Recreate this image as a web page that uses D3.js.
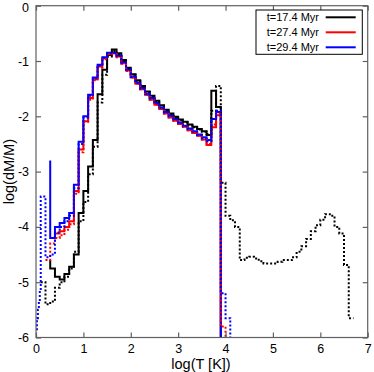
<!DOCTYPE html>
<html><head><meta charset="utf-8">
<script src="https://cdn.jsdelivr.net/npm/d3@7"></script>
<style>
html,body{margin:0;padding:0;background:#fff;}
svg{display:block;font-family:"Liberation Sans",Arial,sans-serif;}
</style></head>
<body><svg id="c" width="374" height="372"></svg>
<script>
// ---------- data (log T bins of 0.1 dex) ----------
const binWidth = 0.1;
const xTicks = [0,1,2,3,4,5,6,7];
const yTicks = [0,-1,-2,-3,-4,-5,-6];
const legendLabels = ["t=17.4 Myr","t=27.4 Myr","t=29.4 Myr"];

// solid histograms
const blackSolidStart = 0.3, blackSolidLead = [[0.3,-4.6]];
const blackSolidVals = [-4.75,-4.9,-4.95,-4.85,-4.72,-4.5,-3.75,-3.35,-2.91,-2.43,-1.6,-1.16,-0.89,-0.79,-0.86,-0.98,-1.12,-1.24,-1.35,-1.45,-1.55,-1.63,-1.72,-1.8,-1.88,-1.95,-2.01,-2.06,-2.1,-2.15,-2.19,-2.23,-2.27,-2.34,-1.54,-1.83];
const redSolidStart = 0.3, redSolidLead = [];
const redSolidVals = [-4.2,-4.12,-4.08,-4.0,-3.9,-3.35,-2.6,-2.09,-1.67,-1.33,-1.1,-0.95,-0.87,-0.86,-0.92,-1.04,-1.17,-1.3,-1.41,-1.51,-1.61,-1.7,-1.79,-1.87,-1.95,-2.02,-2.08,-2.14,-2.19,-2.25,-2.3,-2.35,-2.42,-2.52,-2.2,-1.98];
const blueSolidStart = 0.3, blueSolidLead = [[0.3,-2.8]];
const blueSolidVals = [-4.2,-4.0,-3.93,-3.84,-3.75,-3.24,-2.46,-2.0,-1.61,-1.3,-1.07,-0.93,-0.85,-0.85,-0.9,-1.02,-1.15,-1.28,-1.39,-1.49,-1.59,-1.67,-1.76,-1.84,-1.92,-1.99,-2.05,-2.11,-2.17,-2.22,-2.27,-2.33,-2.38,-2.43,-2.05,-1.92];

// dotted histograms
const blackDotStart = 0.1, blackDotLead = [];
const blackDotVals = [-5.0,-5.4,-5.35,-5.1,-5.0,-4.9,-4.75,-4.45,-3.9,-3.55,-3.05,-2.55,-1.75,-1.25,-0.92,-0.82,-0.88,-1.0,-1.13,-1.25,-1.36,-1.46,-1.56,-1.64,-1.73,-1.81,-1.89,-1.96,-2.02,-2.07,-2.11,-2.16,-2.2,-2.24,-2.28,-2.32,-1.9,-1.45,-3.2,-3.8,-3.88,-4.0,-4.6,-4.56,-4.54,-4.57,-4.62,-4.66,-4.66,-4.66,-4.63,-4.6,-4.6,-4.55,-4.45,-4.35,-4.22,-4.08,-3.97,-3.87,-3.77,-3.8,-4.0,-4.12,-4.69,-5.65];
const redDotStart = 0.2, redDotLead = [];
const redDotVals = [-4.6,-4.3,-4.2,-4.15,-4.05,-3.95,-3.4,-2.65,-2.1,-1.7,-1.35,-1.12,-0.97,-0.88,-0.87,-0.93,-1.05,-1.18,-1.3,-1.41,-1.51,-1.61,-1.7,-1.79,-1.87,-1.95,-2.02,-2.08,-2.14,-2.19,-2.25,-2.3,-2.35,-2.42,-2.5,-2.15,-1.95,-5.8];
const blueDotStart = 0.1, blueDotLead = [[0.0,-5.85],[0.02,-5.65],[0.04,-5.5],[0.06,-5.35],[0.08,-5.15]];
const blueDotVals = [-3.45,-4.55,-4.5,-4.1,-4.0,-3.9,-3.8,-3.3,-2.5,-2.02,-1.63,-1.31,-1.08,-0.94,-0.86,-0.86,-0.91,-1.03,-1.16,-1.29,-1.4,-1.5,-1.6,-1.68,-1.77,-1.85,-1.93,-2.0,-2.06,-2.12,-2.18,-2.23,-2.28,-2.34,-2.4,-2.45,-2.05,-1.9,-5.2,-5.65];

// ---------- layout ----------
const L = 36, R = 367.7, T = 5.7, B = 337.5;
const x = d3.scaleLinear().domain([0,7]).range([L,R]);
const y = d3.scaleLinear().domain([-6,0]).range([B,T]);
const svg = d3.select("#c");

svg.append("defs").append("clipPath").attr("id","clip")
  .append("rect").attr("x",L).attr("y",T).attr("width",R-L).attr("height",B-T);

function buildSteps(start, lead, vals, drop){
  const pts = lead.map(d=>[d[0],d[1]]);
  vals.forEach((v,i)=>pts.push([start+i*binWidth, v]));
  const end = start + vals.length*binWidth;
  pts.push([end, vals[vals.length-1]]);
  if (drop) pts.push([end, -7]);
  return pts;
}
const line = d3.line().x(d=>x(d[0])).y(d=>y(d[1])).curve(d3.curveStepAfter);

const series = [
  {pts: buildSteps(blackSolidStart, blackSolidLead, blackSolidVals, true), color:"#000000", dash:null},
  {pts: buildSteps(redSolidStart, redSolidLead, redSolidVals, true), color:"#ff0000", dash:null},
  {pts: buildSteps(blueSolidStart, blueSolidLead, blueSolidVals, true), color:"#0000ff", dash:null},
  {pts: buildSteps(blackDotStart, blackDotLead, blackDotVals, false), color:"#000000", dash:"2,2"},
  {pts: buildSteps(redDotStart, redDotLead, redDotVals, true), color:"#ff0000", dash:"2,2"},
  {pts: buildSteps(blueDotStart, blueDotLead, blueDotVals, true), color:"#0000ff", dash:"2,2"}
];

const g = svg.append("g").attr("clip-path","url(#clip)");
series.forEach(s=>{
  g.append("path").attr("d", line(s.pts)).attr("fill","none")
    .attr("stroke", s.color).attr("stroke-width",2)
    .attr("stroke-dasharray", s.dash)
    .attr("stroke-linejoin","miter");
});

// ---------- axes (frame with inward ticks) ----------
const axisColor = "#606060";
svg.append("rect").attr("x",L).attr("y",T).attr("width",R-L).attr("height",B-T)
  .attr("fill","none").attr("stroke",axisColor).attr("stroke-width",1.2);

const fmt = d=>String(d);
const ax = svg.append("g").attr("transform",`translate(0,${B})`)
  .call(d3.axisBottom(x).tickValues(xTicks).tickFormat(fmt).tickSizeInner(-5).tickSizeOuter(0).tickPadding(7));
const axT = svg.append("g").attr("transform",`translate(0,${T})`)
  .call(d3.axisTop(x).tickValues(xTicks).tickFormat("").tickSizeInner(-5).tickSizeOuter(0));
const ay = svg.append("g").attr("transform",`translate(${L},0)`)
  .call(d3.axisLeft(y).tickValues(yTicks).tickFormat(fmt).tickSizeInner(-5).tickSizeOuter(0).tickPadding(7));
const ayR = svg.append("g").attr("transform",`translate(${R},0)`)
  .call(d3.axisRight(y).tickValues(yTicks).tickFormat("").tickSizeInner(-5).tickSizeOuter(0));
[ax,axT,ay,ayR].forEach(a=>{
  a.select(".domain").remove();
  a.selectAll(".tick line").attr("stroke",axisColor).attr("stroke-width",1.2);
  a.selectAll(".tick text").attr("fill","#000").attr("font-size",12.5)
   .attr("font-family","'Liberation Sans',Arial,sans-serif");
});
// keep the top "0" label inside the picture
ay.selectAll(".tick text").filter(d=>d===0).attr("dy","0.45em");

svg.append("text").attr("x",201).attr("y",369).attr("text-anchor","middle")
  .attr("font-size",14.5).text("log(T [K])");
svg.append("text").attr("transform",`translate(14,${(T+B)/2}) rotate(-90)`)
  .attr("text-anchor","middle").attr("font-size",14.5).text("log(dM/M)");

// ---------- legend ----------
const lg = svg.append("g");
lg.append("rect").attr("x",256).attr("y",10).attr("width",106.3).attr("height",44.3)
  .attr("fill","#fff").attr("stroke","#000").attr("stroke-width",1);
const legColors = ["#000000","#ff0000","#0000ff"];
legendLabels.forEach((t,i)=>{
  const yy = 17.3 + i*15;
  lg.append("text").attr("x",319).attr("y",yy+4).attr("text-anchor","end")
    .attr("font-size",11).text(t);
  lg.append("line").attr("x1",325.7).attr("x2",355.7).attr("y1",yy).attr("y2",yy)
    .attr("stroke",legColors[i]).attr("stroke-width",2);
});
</script></body></html>
